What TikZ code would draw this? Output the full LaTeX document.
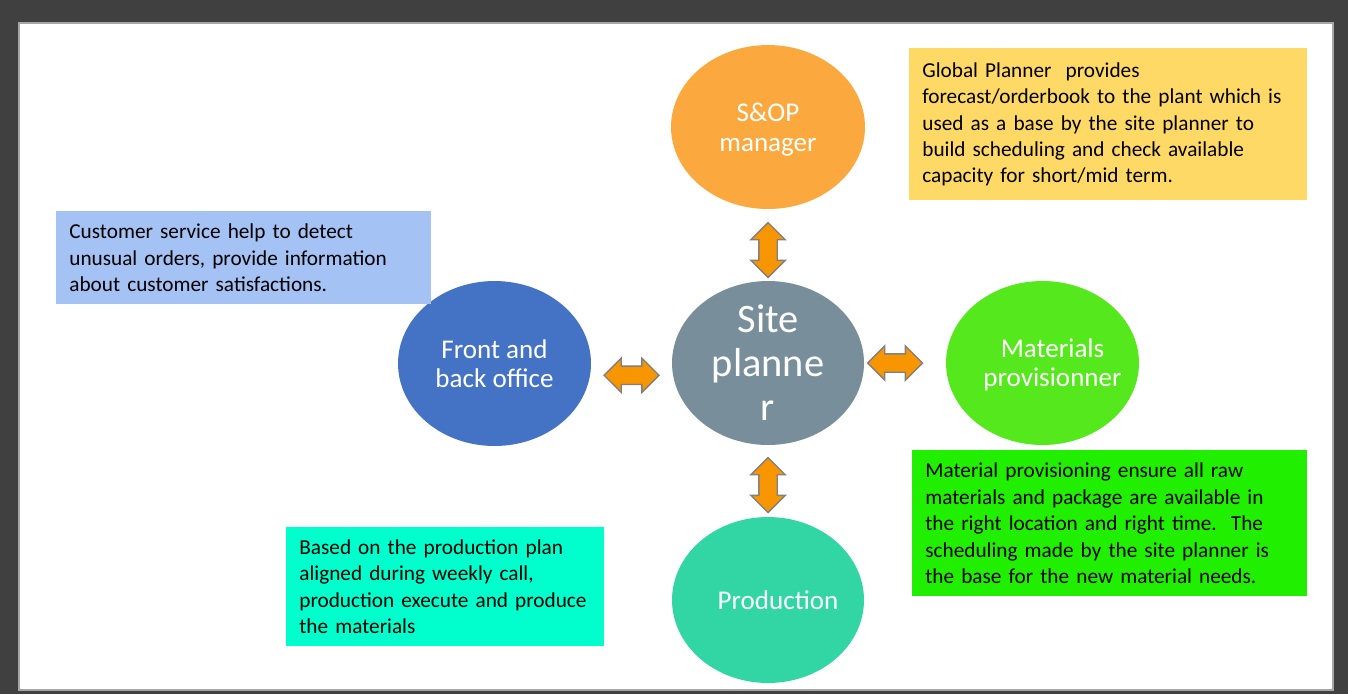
\documentclass[tikz,border=0pt]{standalone}
\usepackage{fontspec}
\setmainfont{Carlito}
\usetikzlibrary{shapes.geometric,shapes.arrows,calc}

\definecolor{slidegray}{RGB}{64,64,64}
\definecolor{sopcol}{RGB}{251,169,62}
\definecolor{sitecol}{RGB}{120,143,155}
\definecolor{frontcol}{RGB}{68,114,196}
\definecolor{matcol}{RGB}{85,232,28}
\definecolor{prodcol}{RGB}{50,214,164}
\definecolor{planboxcol}{RGB}{255,217,102}
\definecolor{custboxcol}{RGB}{164,194,244}
\definecolor{matboxcol}{RGB}{32,240,0}
\definecolor{prodboxcol}{RGB}{0,255,204}
\definecolor{arrowcol}{RGB}{247,150,0}

\tikzset{
  role/.style={ellipse, inner sep=0pt},
  rolelabel/.style={text=white, align=center, font=\fontsize{15.4}{16.8}\selectfont},
  infobox/.style={rectangle, anchor=north west, inner xsep=0.26cm, inner ysep=0pt, align=left, font=\fontsize{12.1}{15}\selectfont},
  linkarrow/.style={double arrow, fill=arrowcol, draw=gray, line width=0.8pt, inner sep=0.17cm,
    minimum height=1.1cm, double arrow head extend=0.16cm}
}

\begin{document}
\begin{tikzpicture}[x=0.02cm, y=-0.02cm]
\fill [slidegray] (0,0) rectangle (1348,694);
\draw [fill=white, draw=gray!70, line width=0.6pt] (19,23) rectangle (1333,690);

\node (sop) [role, fill=sopcol, minimum width=3.88cm, minimum height=3.28cm] at (768,127) {};
\node [rolelabel, yshift=-0.05cm] at (sop.center) {S\&OP\\manager};

\node (site) [role, fill=sitecol, minimum width=3.84cm, minimum height=3.28cm] at (768,363) {};
\node [rolelabel, font=\fontsize{23}{25}\selectfont] at (site.center) {Site\\planne\\r};

\node (front) [role, fill=frontcol, minimum width=3.86cm, minimum height=3.3cm] at (494.5,363.5) {};
\node [rolelabel] at (front.center) {Front and\\back office};

\node (mat) [role, fill=matcol, minimum width=3.86cm, minimum height=3.28cm] at (1042.5,363) {};
\node [rolelabel, xshift=0.2cm, yshift=-0.04cm] at (mat.center) {Materials\\provisionner};

\node (prod) [role, fill=prodcol, minimum width=3.84cm, minimum height=3.32cm] at (768,600) {};
\node [rolelabel, xshift=0.2cm] at (prod.center) {Production};

\node (sopsite) [linkarrow, shape border rotate=90, yshift=-0.1cm] at ($(sop.south)!0.5!(site.north)$) {};
\node (frontsite) [linkarrow, yshift=-0.24cm] at ($(front.east)!0.5!(site.west)$) {};
\node (matsite) [linkarrow, xshift=-0.2cm] at ($(site.east)!0.5!(mat.west)$) {};
\node (prodsite) [linkarrow, shape border rotate=90, yshift=-0.08cm] at ($(site.south)!0.5!(prod.north)$) {};

\node (planbox) [infobox, fill=planboxcol, text width=7.44cm, minimum width=7.96cm, minimum height=3.04cm] at (909,48)
  {Global Planner\ \ provides\\forecast/orderbook to the plant which is\\used as a base by the site planner to\\build scheduling and check available\\capacity for short/mid term.};

\node (custbox) [infobox, fill=custboxcol, text width=6.98cm, minimum width=7.5cm, minimum height=1.86cm] at (56,211)
  {Customer service help to detect\\unusual orders, provide information\\about customer satisfactions.};

\node (matbox) [infobox, fill=matboxcol, text width=7.38cm, minimum width=7.9cm, minimum height=2.92cm] at (912,450)
  {Material provisioning ensure all raw\\materials and package are available in\\the right location and right time.\ \ The\\scheduling made by the site planner is\\the base for the new material needs.};

\node (prodbox) [infobox, fill=prodboxcol, text width=5.84cm, minimum width=6.36cm, minimum height=2.38cm] at (286,527)
  {Based on the production plan\\aligned during weekly call,\\production execute and produce\\the materials};
\end{tikzpicture}
\end{document}
